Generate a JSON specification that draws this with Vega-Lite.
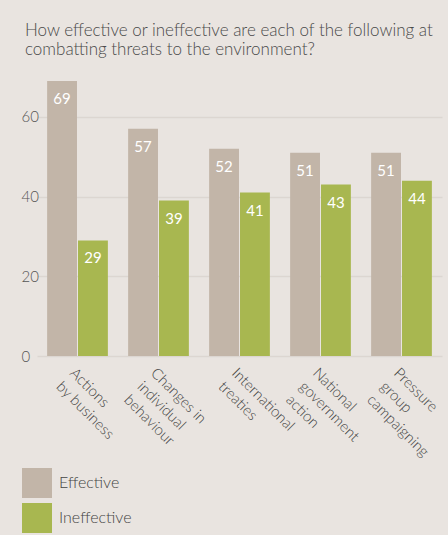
{
  "$schema": "https://vega.github.io/schema/vega-lite/v6.json",
  "width": 437,
  "height": 279,
  "autosize": {"type": "none"},
  "padding": {"left": 11, "top": 77, "right": 0, "bottom": 179},
  "background": "#E9E4E0",
  "config": {"view": {"stroke": null}},
  "title": {
    "text": ["How effective or ineffective are each of the following at", "combatting threats to the environment?"],
    "anchor": "start",
    "frame": "group",
    "dx": 14,
    "offset": 18,
    "fontSize": 17,
    "font": "Lato",
    "fontWeight": 300,
    "color": "#4a4a4a",
    "lineHeight": 19
  },
  "data": {
    "values": [
      {"category": "Actions by business", "type": "Effective", "value": 69},
      {"category": "Actions by business", "type": "Ineffective", "value": 29},
      {"category": "Changes in individual behaviour", "type": "Effective", "value": 57},
      {"category": "Changes in individual behaviour", "type": "Ineffective", "value": 39},
      {"category": "International treaties", "type": "Effective", "value": 52},
      {"category": "International treaties", "type": "Ineffective", "value": 41},
      {"category": "National government action", "type": "Effective", "value": 51},
      {"category": "National government action", "type": "Ineffective", "value": 43},
      {"category": "Pressure group campaigning", "type": "Effective", "value": 51},
      {"category": "Pressure group campaigning", "type": "Ineffective", "value": 44}
    ]
  },
  "encoding": {
    "x": {
      "field": "category",
      "type": "nominal",
      "sort": null,
      "scale": {"range": [26, 431], "paddingInner": 0.25, "paddingOuter": 0.125},
      "axis": {
        "title": null,
        "labelAngle": 45,
        "labelAlign": "left",
        "labelBaseline": "top",
        "ticks": false,
        "domain": false,
        "grid": false,
        "labelPadding": 9,
        "labelFontSize": 15,
        "labelFontWeight": 300,
        "labelColor": "#444444",
        "labelFont": "Lato",
        "labelLineHeight": 19,
        "labelLimit": 300,
        "labelOverlap": false,
        "labelBound": false,
        "labelExpr": "datum.value == 'Actions by business' ? ['Actions','by business'] : datum.value == 'Changes in individual behaviour' ? ['Changes in','individual','behaviour'] : datum.value == 'International treaties' ? ['International','treaties'] : datum.value == 'National government action' ? ['National','government','action'] : ['Pressure','group','campaigning']"
      }
    },
    "xOffset": {
      "field": "type",
      "type": "nominal",
      "sort": ["Effective", "Ineffective"],
      "scale": {"paddingInner": 0.033, "paddingOuter": 0}
    },
    "y": {
      "field": "value",
      "type": "quantitative",
      "scale": {"domain": [0, 70]},
      "axis": {
        "title": null,
        "values": [0, 20, 40, 60],
        "grid": true,
        "gridColor": "#DCD6D1",
        "gridWidth": 1.5,
        "domain": false,
        "ticks": false,
        "labelAlign": "left",
        "labelBaseline": "middle",
        "labelPadding": -10,
        "labelFontSize": 15,
        "labelFontWeight": 300,
        "labelColor": "#555555",
        "labelFont": "Lato"
      }
    }
  },
  "layer": [
    {
      "mark": {"type": "bar"},
      "encoding": {
        "color": {
          "field": "type",
          "type": "nominal",
          "scale": {"domain": ["Effective", "Ineffective"], "range": ["#C2B5A8", "#A8B750"]},
          "legend": {
            "title": null,
            "orient": "none",
            "legendX": 11,
            "legendY": 391,
            "symbolType": "square",
            "symbolSize": 900,
            "symbolStrokeWidth": 0,
            "symbolOpacity": 1,
            "labelFontSize": 16,
            "labelFontWeight": 300,
            "labelFont": "Lato",
            "labelColor": "#444444",
            "rowPadding": 5,
            "labelOffset": 7,
            "padding": 0
          }
        }
      }
    },
    {
      "mark": {"type": "text", "baseline": "top", "dy": 11, "color": "white", "fontSize": 15, "font": "Lato"},
      "encoding": {"text": {"field": "value", "type": "quantitative"}}
    }
  ]
}
